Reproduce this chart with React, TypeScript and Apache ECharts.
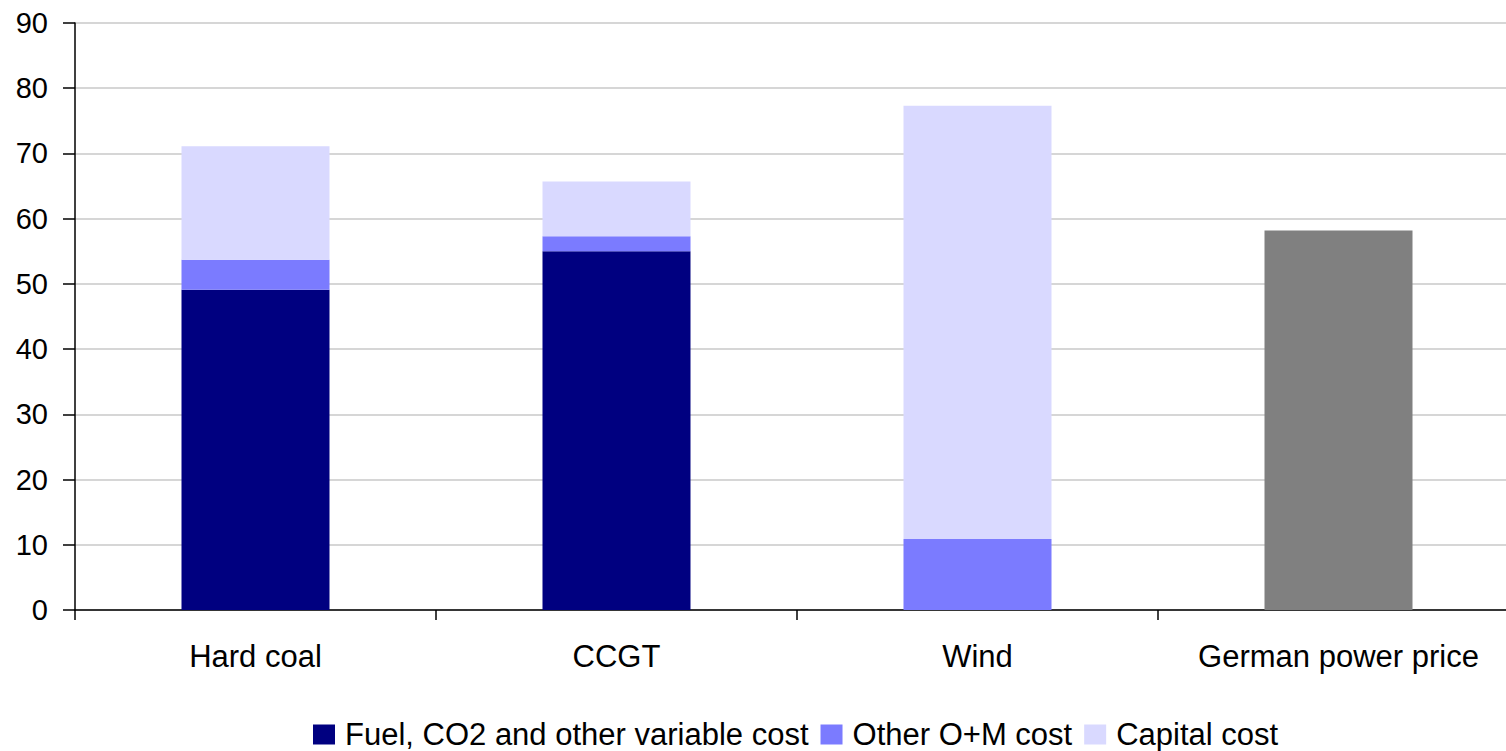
import React, { useEffect, useRef } from "react";
import * as echarts from "echarts";

const categories = ["Hard coal", "CCGT", "Wind", "German power price"];
const fuelCost = [49.1, 55.0, 0, null];
const omCost = [4.6, 2.3, 10.9, null];
const capitalCost = [17.4, 8.4, 66.4, null];
const powerPrice = [null, null, null, 58.2];
const yTicks = [0, 10, 20, 30, 40, 50, 60, 70, 80, 90];

const FONT = "'Liberation Sans', Arial, sans-serif";

export default function App() {
  const ref = useRef<HTMLDivElement>(null);
  useEffect(() => {
    if (!ref.current) return;
    const chart = echarts.init(ref.current, undefined, { renderer: "svg" });
    const barW = "41%";
    chart.setOption({
      animation: false,
      textStyle: { fontFamily: FONT },
      grid: { left: 75, top: 23, right: 0, height: 587, containLabel: false },
      legend: {
        left: 308,
        top: 714,
        itemWidth: 22,
        itemHeight: 20,
        itemGap: 12,
        icon: "rect",
        textStyle: { fontSize: 31, color: "#000", fontFamily: FONT, padding: [0, 0, 0, 5] },
        data: ["Fuel, CO2 and other variable cost", "Other O+M cost", "Capital cost"],
      },
      xAxis: {
        type: "category",
        data: categories,
        axisLine: { lineStyle: { color: "#000", width: 1.5 } },
        axisTick: { show: true, length: 10, interval: 0, alignWithLabel: false, lineStyle: { color: "#000", width: 1.5 } },
        axisLabel: { fontSize: 31, color: "#000", margin: 31, interval: 0, fontFamily: FONT },
        splitLine: { show: false },
      },
      yAxis: {
        type: "value",
        min: yTicks[0],
        max: yTicks[yTicks.length - 1],
        interval: 10,
        axisLine: { show: true, lineStyle: { color: "#000", width: 1.5 } },
        axisTick: { show: true, length: 12, lineStyle: { color: "#000", width: 1.5 } },
        axisLabel: { fontSize: 29, color: "#000", margin: 27, fontFamily: FONT },
        splitLine: { show: true, lineStyle: { color: "#c8c8c8", width: 1.5 } },
      },
      series: [
        {
          name: "Fuel, CO2 and other variable cost",
          type: "bar",
          stack: "s",
          barWidth: barW,
          data: fuelCost,
          itemStyle: { color: "#000080" },
        },
        {
          name: "Other O+M cost",
          type: "bar",
          stack: "s",
          barWidth: barW,
          data: omCost,
          itemStyle: { color: "#7b7bff" },
        },
        {
          name: "Capital cost",
          type: "bar",
          stack: "s",
          barWidth: barW,
          data: capitalCost,
          itemStyle: { color: "#d9d9ff" },
        },
        {
          name: "German power price",
          type: "bar",
          stack: "s",
          barWidth: barW,
          data: powerPrice,
          itemStyle: { color: "#808080" },
        },
      ],
    });
    return () => chart.dispose();
  }, []);
  return (
    <div
      style={{ position: "fixed", left: 0, top: 0, width: 1506, height: 751, overflow: "hidden", background: "#fff" }}
    >
      <div ref={ref} style={{ width: 1519, height: 751 }} />
    </div>
  );
}
